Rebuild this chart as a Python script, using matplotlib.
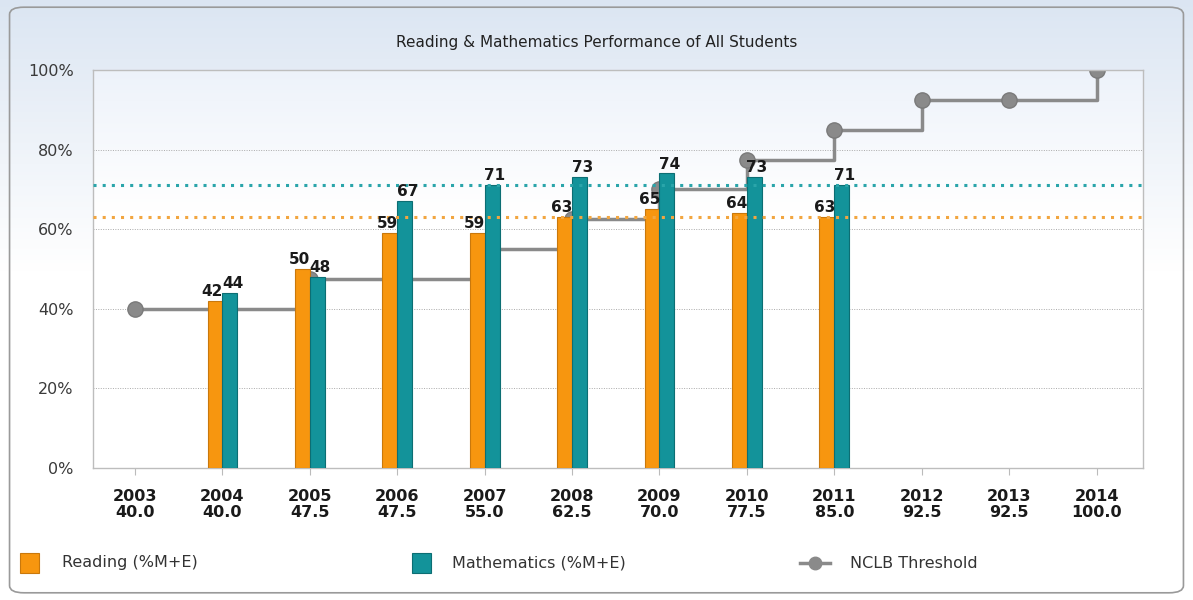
import numpy as np
import matplotlib.pyplot as plt
from matplotlib.patches import FancyBboxPatch, Rectangle
from matplotlib.lines import Line2D

years = ["2003", "2004", "2005", "2006", "2007", "2008", "2009",
         "2010", "2011", "2012", "2013", "2014"]
threshold = [40.0, 40.0, 47.5, 47.5, 55.0, 62.5, 70.0, 77.5, 85.0, 92.5, 92.5, 100.0]
bar_years = ["2004", "2005", "2006", "2007", "2008", "2009", "2010", "2011"]
reading = [42, 50, 59, 59, 63, 65, 64, 63]
math = [44, 48, 67, 71, 73, 74, 73, 71]
reading_ref = 63
math_ref = 71

orange = "#F7960F"
orange_edge = "#C9780C"
teal = "#13939A"
teal_edge = "#0C6E73"
gray = "#8A8A8A"

fig = plt.figure(figsize=(11.93, 6.0), dpi=100)

# background gradient and rounded frame
bg = fig.add_axes([0, 0, 1, 1], zorder=-10)
grad = np.linspace(0, 1, 256).reshape(-1, 1)
top = np.array([0.86, 0.90, 0.95])
bot = np.array([1.0, 1.0, 1.0])
w = np.clip(grad / 0.45, 0, 1)
img = top + (bot - top) * w[..., None]
bg.imshow(img, aspect="auto", extent=[0, 1, 0, 1], origin="upper")
bg.add_patch(FancyBboxPatch((0.008, 0.012), 0.984, 0.976,
                            boxstyle="round,pad=0,rounding_size=0.012",
                            fill=False, edgecolor="#9A9A9A", linewidth=1.2,
                            transform=bg.transAxes))
bg.set_xlim(0, 1)
bg.set_ylim(0, 1)
bg.axis("off")

ax = fig.add_axes([0.078, 0.22, 0.88, 0.6633])
# faint gradient inside the plot area
pgrad = np.linspace(0, 1, 256).reshape(-1, 1)
ptop = np.array([0.93, 0.95, 0.98])
pw = np.clip(pgrad / 0.35, 0, 1)
pimg = ptop + (bot - ptop) * pw[..., None]
ax.imshow(pimg, aspect="auto", extent=[-0.48, 11.53, 0, 100], origin="upper", zorder=0)

x = np.arange(len(years))
bx = np.array([years.index(y) for y in bar_years])
bw = 0.17

# threshold step line behind bars
ax.plot(x, threshold, drawstyle="steps-post", color=gray, linewidth=2.5, zorder=2)
ax.plot(x, threshold, linestyle="none", marker="o", markersize=11,
        color=gray, markeredgecolor="#7A7A7A", zorder=2)

ax.bar(bx - bw / 2, reading, width=bw, color=orange, edgecolor=orange_edge,
       linewidth=0.8, zorder=3)
ax.bar(bx + bw / 2, math, width=bw, color=teal, edgecolor=teal_edge,
       linewidth=0.8, zorder=3)

for xi, r, m in zip(bx, reading, math):
    ax.text(xi - bw / 2 - 0.03, r + 0.5, str(r), ha="center", va="bottom",
            fontsize=11, fontweight="bold", color="#1A1A1A", zorder=5)
    ax.text(xi + bw / 2 + 0.03, m + 0.5, str(m), ha="center", va="bottom",
            fontsize=11, fontweight="bold", color="#1A1A1A", zorder=5)

ax.axhline(math_ref, color="#2AA5AA", linestyle=(0, (1, 2)), linewidth=2.2, zorder=4)
ax.axhline(reading_ref, color="#F2A640", linestyle=(0, (1, 2)), linewidth=2.2, zorder=4)

for g in [20, 40, 60, 80]:
    ax.axhline(g, color="#AAAAAA", linestyle=(0, (1, 1.5)), linewidth=0.7, zorder=1)

ax.set_xlim(-0.48, 11.53)
ax.set_ylim(0, 100)
ax.set_yticks([0, 20, 40, 60, 80, 100])
ax.set_yticklabels(["0%", "20%", "40%", "60%", "80%", "100%"], fontsize=11.5,
                   color="#3A3A3A")
ax.set_xticks(x)
ax.set_xticklabels([f"{y}\n{t:.1f}" for y, t in zip(years, threshold)],
                   fontsize=11.5, fontweight="bold", color="#1A1A1A",
                   linespacing=1.1)
ax.tick_params(axis="y", length=0, pad=14)
ax.tick_params(axis="x", length=5, color="#BBBBBB", pad=10)
for s in ax.spines.values():
    s.set_color("#BDBDBD")
    s.set_linewidth(1)

fig.text(0.5, 0.93, "Reading & Mathematics Performance of All Students",
         ha="center", va="center", fontsize=11, color="#222222")

# legend
lax = fig.add_axes([0, 0, 1, 1], zorder=5)
lax.set_xlim(0, 1193)
lax.set_ylim(600, 0)
lax.axis("off")
lax.add_patch(Rectangle((20, 553), 19, 20, facecolor=orange, edgecolor=orange_edge, lw=0.8))
lax.text(62, 563, "Reading (%M+E)", va="center", fontsize=11.5, color="#333333")
lax.add_patch(Rectangle((412, 553), 19, 20, facecolor=teal, edgecolor=teal_edge, lw=0.8))
lax.text(452, 563, "Mathematics (%M+E)", va="center", fontsize=11.5, color="#333333")
lax.add_line(Line2D([800, 830], [563, 563], color=gray, lw=2.5))
lax.plot([815], [563], marker="o", markersize=9, color=gray)
lax.text(850, 563, "NCLB Threshold", va="center", fontsize=11.5, color="#333333")

fig.savefig("out.png", dpi=100)
plt.close(fig)
